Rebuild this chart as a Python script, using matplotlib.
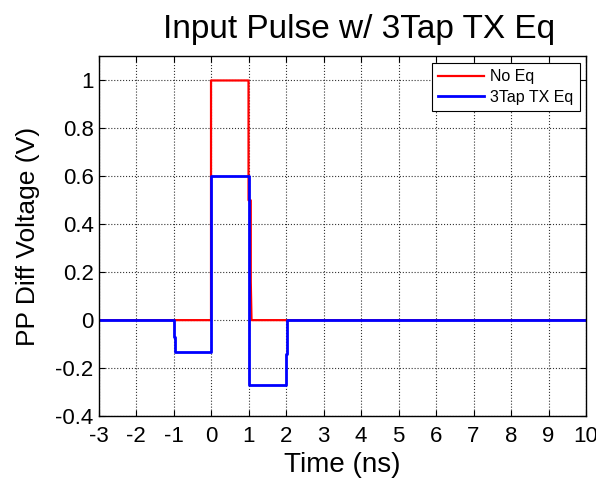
import numpy as np
import matplotlib.pyplot as plt

plt.rcParams['font.family'] = ['Liberation Sans', 'DejaVu Sans']
plt.rcParams['axes.unicode_minus'] = False

# Pulso sin ecualizacion (puntos de la forma de onda)
t_sin_eq = [-3, 0, 0, 1, 1, 1.06, 1.06, 1.08, 10]
v_sin_eq = [0, 0, 1, 1, 0.5, 0.5, 0.16, 0, 0]

# Pulso con ecualizador TX de 3 taps (-0.133, 0.6, -0.267)
t_3tap = [-3, -1, -1, -0.97, -0.97, 0, 0, 1, 1, 1.02, 1.02, 2, 2, 2.03, 2.03, 10]
v_3tap = [0, 0, -0.07, -0.07, -0.1333, -0.1333, 0.6, 0.6, 0.2, 0.2, -0.27, -0.27,
          -0.14, -0.14, 0, 0]

etiquetas = ['No Eq', '3Tap TX Eq']
xticks = np.arange(-3, 11, 1)
yticks = np.arange(-0.4, 1.01, 0.2)
ytick_labels = ['-0.4', '-0.2', '0', '0.2', '0.4', '0.6', '0.8', '1']

fig = plt.figure(figsize=(5.96, 4.8), dpi=100)
ax = fig.add_axes([0.1653, 0.1333, 0.818, 0.749])

ax.plot(t_sin_eq, v_sin_eq, color='#ff0000', lw=1.6, label=etiquetas[0])
ax.plot(t_3tap, v_3tap, color='#0000ff', lw=2.0, label=etiquetas[1])

ax.set_xlim(-3, 10)
ax.set_ylim(-0.4, 1.1)
ax.set_xticks(xticks)
ax.set_yticks(yticks)
ax.set_yticklabels(ytick_labels)
ax.tick_params(direction='in', length=4, width=0.8, top=True, right=True,
               labelsize=16)
ax.tick_params(axis='x', pad=7)
ax.tick_params(axis='y', pad=3.5)
ax.grid(True, linestyle=':', color='#333333', lw=0.8)
for s in ax.spines.values():
    s.set_linewidth(1.0)

ax.set_title('Input Pulse w/ 3Tap TX Eq', fontsize=24, x=0.535, pad=13)
ax.set_xlabel('Time (ns)', fontsize=20, labelpad=4)
ax.set_ylabel('PP Diff Voltage (V)', fontsize=19, labelpad=11)

ley = ax.legend(loc='upper right', fontsize=11.5, handlelength=2.9,
                fancybox=False, framealpha=1, edgecolor='black',
                borderaxespad=0.4, borderpad=0.4, labelspacing=0.35,
                handletextpad=0.35)
ley.get_frame().set_linewidth(0.8)

plt.savefig('out.png', dpi=100)
